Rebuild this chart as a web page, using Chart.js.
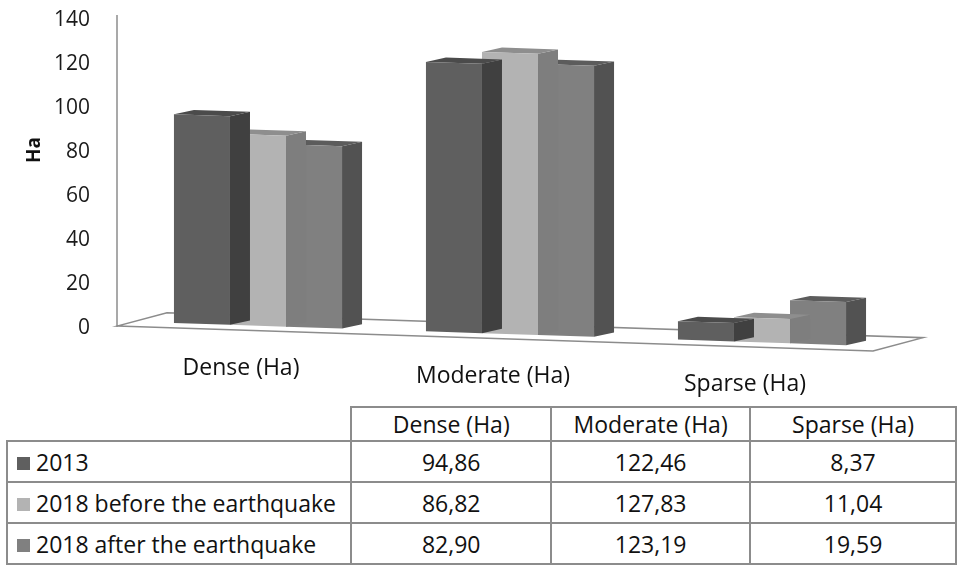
<!DOCTYPE html>
<html>
<head>
<meta charset="utf-8">
<script src="https://cdn.jsdelivr.net/npm/chart.js@4"></script>
<style>
    body { margin: 0; background: #fff; font-family: 'Open Sans', sans-serif; }
    #chart-box { position: absolute; left: 0; top: 0; width: 957px; height: 400px; }
    #data-table {
        position: absolute; left: 6px; top: 406px;
        border-collapse: collapse; table-layout: fixed;
        font-size: 23px; color: #111;
    }
    #data-table td { border: 2px solid #8c8c8c; padding: 0; text-align: center; white-space: nowrap; }
    #data-table tr.head td { height: 31px; }
    #data-table tr.row td { height: 39px; }
    #data-table td.empty { border-top: none; border-left: none; }
    #data-table td.name { text-align: left; padding-left: 9px; }
    .swatch { display: inline-block; width: 13px; height: 13px; margin-right: 6px; vertical-align: 1px; }
</style>
</head>
<body>
<div id="chart-box"><canvas id="data-chart"></canvas></div>
<table id="data-table"></table>
<script>
// Chart data
const categories = ['Dense (Ha)', 'Moderate (Ha)', 'Sparse (Ha)'];
const seriesNames = ['2013', '2018 before the earthquake', '2018 after the earthquake'];
const values2013 = [94.86, 122.46, 8.37];
const valuesBefore = [86.82, 127.83, 11.04];
const valuesAfter = [82.90, 123.19, 19.59];
const yTicks = [0, 20, 40, 60, 80, 100, 120, 140];

const seriesValues = [values2013, valuesBefore, valuesAfter];
const frontColors = ['#5f5f5f', '#b3b3b3', '#808080'];
const topColors = ['#4b4b4b', '#8e8e8e', '#5c5c5c'];
const sideColors = ['#404040', '#7e7e7e', '#525252'];

// perspective: slant of the floor and depth of the boxes
const shearK = 0.033;
const depthX = 20;
const depthY = 5;
const lineGray = '#8c8c8c';

function shearOrigin(chart) {
    return chart.chartArea.left + 103;
}

function applyShear(chart, ctx) {
    const x0 = shearOrigin(chart);
    ctx.transform(1, shearK, 0, 1, 0, -shearK * x0);
}

const box3d = {
    id: 'box3d',
    beforeDatasetsDraw(chart) {
        const ctx = chart.ctx;
        const { left, right, top, bottom } = chart.chartArea;
        // y axis line
        ctx.save();
        ctx.strokeStyle = lineGray;
        ctx.lineWidth = 1.5;
        ctx.beginPath();
        ctx.moveTo(left - 15, top - 2);
        ctx.lineTo(left - 15, bottom + 2);
        ctx.stroke();
        // floor
        applyShear(chart, ctx);
        ctx.beginPath();
        ctx.moveTo(left - 15, bottom + 5);
        ctx.lineTo(right - 15, bottom + 5);
        ctx.lineTo(right + 35, bottom - 10);
        ctx.lineTo(left + 35, bottom - 10);
        ctx.closePath();
        ctx.fillStyle = '#fff';
        ctx.fill();
        ctx.stroke();
        ctx.restore();
    },
    beforeDatasetDraw(chart, args) {
        const ctx = chart.ctx;
        const i = args.index;
        ctx.save();
        applyShear(chart, ctx);
        args.meta.data.forEach(bar => {
            const { x, y, base, width } = bar.getProps(['x', 'y', 'base', 'width'], true);
            const l = x - width / 2;
            const r = x + width / 2;
            // side face
            ctx.fillStyle = sideColors[i];
            ctx.beginPath();
            ctx.moveTo(r, y);
            ctx.lineTo(r + depthX, y - depthY);
            ctx.lineTo(r + depthX, base - depthY);
            ctx.lineTo(r, base);
            ctx.closePath();
            ctx.fill();
            // top face
            ctx.fillStyle = topColors[i];
            ctx.beginPath();
            ctx.moveTo(l, y);
            ctx.lineTo(l + depthX, y - depthY);
            ctx.lineTo(r + depthX, y - depthY);
            ctx.lineTo(r, y);
            ctx.closePath();
            ctx.fill();
        });
    },
    afterDatasetDraw(chart) {
        chart.ctx.restore();
    },
    afterDraw(chart) {
        const ctx = chart.ctx;
        const { bottom } = chart.chartArea;
        const xScale = chart.scales.x;
        const x0 = shearOrigin(chart);
        ctx.save();
        ctx.fillStyle = '#111';
        ctx.font = '23px "Open Sans"';
        ctx.textAlign = 'center';
        ctx.textBaseline = 'middle';
        categories.forEach((c, i) => {
            const x = xScale.getPixelForValue(i) - 17;
            ctx.fillText(c, x, bottom + 43 + shearK * (x - x0));
        });
        // axis title
        ctx.translate(35, 150);
        ctx.rotate(-Math.PI / 2);
        ctx.font = 'bold 19px "Open Sans"';
        ctx.fillText('Ha', 0, 0);
        ctx.restore();
    }
};

const ctx = document.getElementById('data-chart').getContext('2d');
const myChart = new Chart(ctx, {
    type: 'bar',
    data: {
        labels: categories,
        datasets: seriesNames.map((name, i) => ({
            label: name,
            data: seriesValues[i],
            backgroundColor: frontColors[i],
            borderWidth: 0,
            categoryPercentage: 0.667,
            barPercentage: 1,
            clip: false
        }))
    },
    options: {
        responsive: true,
        maintainAspectRatio: false,
        animation: false,
        layout: { padding: { top: 17, right: 69, bottom: 75, left: 0 } },
        plugins: {
            legend: { display: false },
            tooltip: { enabled: false }
        },
        scales: {
            x: { display: false },
            y: {
                min: 0,
                max: 140,
                afterFit(scale) {
                    scale.width = 132;
                    scale.paddingTop = 0;
                    scale.paddingBottom = 0;
                },
                afterBuildTicks(scale) { scale.ticks = yTicks.map(v => ({ value: v })); },
                grid: { display: false, drawTicks: false },
                border: { display: false },
                ticks: {
                    padding: 42,
                    labelOffset: 3,
                    color: '#1a1a1a',
                    font: { family: 'Open Sans', size: 21 }
                }
            }
        }
    },
    plugins: [box3d]
});

// Data table under the chart
function fmt(v) {
    return v.toFixed(2).replace('.', ',');
}

function buildTable() {
    const table = document.getElementById('data-table');
    let html = '<colgroup><col style="width:345px"><col style="width:204px"><col style="width:201px"><col style="width:210px"></colgroup>';
    html += '<tr class="head"><td class="empty"></td>' + categories.map(c => `<td>${c}</td>`).join('') + '</tr>';
    seriesNames.forEach((name, i) => {
        html += `<tr class="row"><td class="name"><span class="swatch" style="background:${frontColors[i]}"></span>${name}</td>`;
        html += seriesValues[i].map(v => `<td>${fmt(v)}</td>`).join('') + '</tr>';
    });
    table.innerHTML = html;
}

buildTable();
</script>
</body>
</html>
